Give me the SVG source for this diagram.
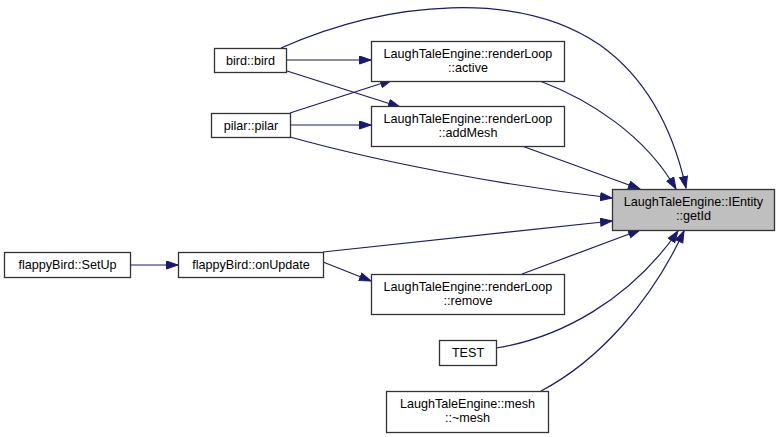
<svg xmlns="http://www.w3.org/2000/svg" width="784" height="437" viewBox="0 0 784 437">
<defs>
<style>
.n rect{fill:#ffffff;stroke:#333333;stroke-width:1.3}
.n.hl rect{fill:#bfbfbf}
.n text{font-family:"Liberation Sans",Arial,sans-serif;font-size:12.6px;fill:#000000;text-anchor:middle}
.e path{fill:none;stroke:#191970;stroke-width:1.2}
</style>
<marker id="ah" markerUnits="userSpaceOnUse" markerWidth="14" markerHeight="11" refX="12" refY="4.5" orient="auto">
<path d="M0.5,0.5 L12,4.5 L0.5,8.5 z" fill="#191970" stroke="#191970" stroke-width="1"/>
</marker>
</defs>
<rect width="784" height="437" fill="#ffffff"/>
<g id="connectors" class="e">
<path marker-end="url(#ah)" d="M281,48 C390,0 520,-10 600,45 C645,77 672,125 686,188"/>
<path marker-end="url(#ah)" d="M287,60 L371,60"/>
<path marker-end="url(#ah)" d="M287,71 L400,107"/>
<path marker-end="url(#ah)" d="M290,113 L392,80"/>
<path marker-end="url(#ah)" d="M290,125 L371,125"/>
<path marker-end="url(#ah)" d="M290,137 C380,162 500,185 612,198"/>
<path marker-end="url(#ah)" d="M540,81 C590,100 645,135 676,189"/>
<path marker-end="url(#ah)" d="M522,146 L640,189"/>
<path marker-end="url(#ah)" d="M323,252 L612,221"/>
<path marker-end="url(#ah)" d="M130,265 L178,265"/>
<path marker-end="url(#ah)" d="M323,262 L371,281"/>
<path marker-end="url(#ah)" d="M522,274 L640,230"/>
<path marker-end="url(#ah)" d="M496,348 C560,338 630,300 678,231"/>
<path marker-end="url(#ah)" d="M541,391 C600,360 652,300 684,231"/>
</g>
<g id="node-getId" class="n hl"><rect x="612.5" y="189.5" width="162" height="41"/><text x="693.5" y="206">LaughTaleEngine::IEntity</text><text x="693.5" y="220">::getId</text></g>
<g id="node-bird" class="n"><rect x="214.5" y="48.5" width="72" height="24"/><text x="250.5" y="64.5">bird::bird</text></g>
<g id="node-active" class="n"><rect x="371.5" y="41.5" width="193" height="40"/><text x="468" y="57.5">LaughTaleEngine::renderLoop</text><text x="468" y="71.5">::active</text></g>
<g id="node-addMesh" class="n"><rect x="371.5" y="106.5" width="193" height="40"/><text x="468" y="122.5">LaughTaleEngine::renderLoop</text><text x="468" y="136.5">::addMesh</text></g>
<g id="node-pilar" class="n"><rect x="211.5" y="113.5" width="79" height="24"/><text x="251" y="129.5">pilar::pilar</text></g>
<g id="node-setup" class="n"><rect x="4.5" y="252.5" width="126" height="25"/><text x="67.5" y="269">flappyBird::SetUp</text></g>
<g id="node-onUpdate" class="n"><rect x="178.5" y="252.5" width="145" height="25"/><text x="251" y="269">flappyBird::onUpdate</text></g>
<g id="node-remove" class="n"><rect x="371.5" y="274.5" width="193" height="40"/><text x="468" y="290.5">LaughTaleEngine::renderLoop</text><text x="468" y="304.5">::remove</text></g>
<g id="node-test" class="n"><rect x="439.5" y="340.5" width="57" height="25"/><text x="468" y="357">TEST</text></g>
<g id="node-mesh" class="n"><rect x="386.5" y="391.5" width="162" height="41"/><text x="467.5" y="408">LaughTaleEngine::mesh</text><text x="467.5" y="422">::~mesh</text></g>
</svg>
